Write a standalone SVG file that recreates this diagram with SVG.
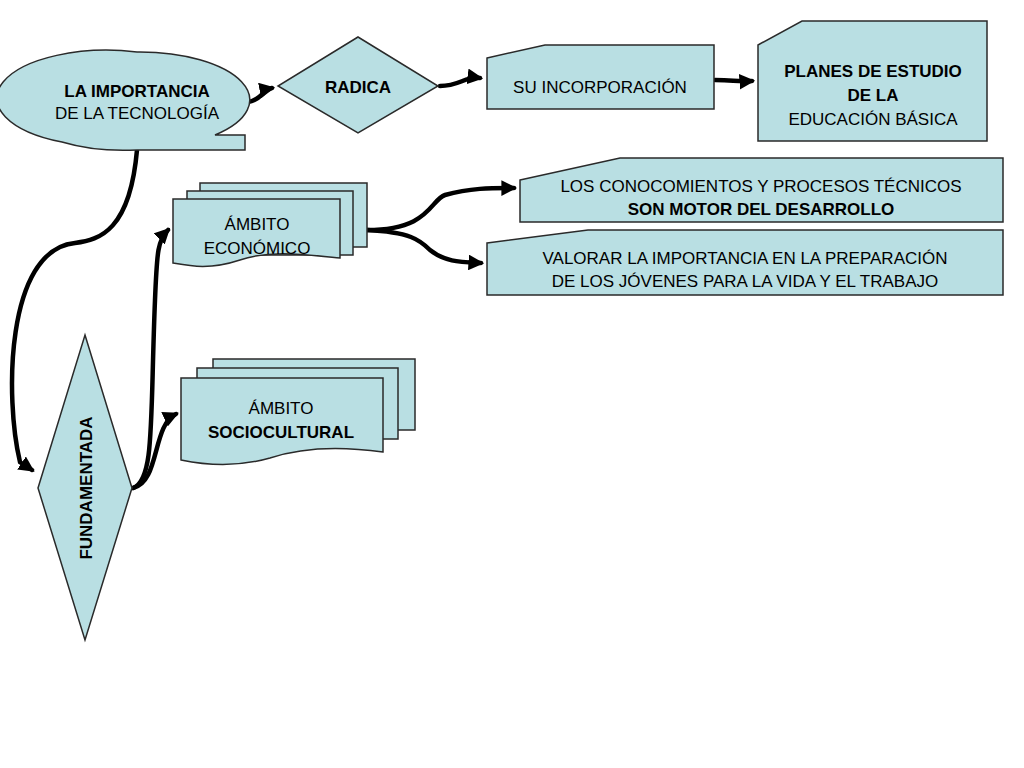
<svg xmlns="http://www.w3.org/2000/svg" width="1024" height="768" viewBox="0 0 1024 768">
<style>
.s{fill:#b9dfe3;stroke:#2a2a2a;stroke-width:1.5}
.t{font-family:"Liberation Sans",Arial,sans-serif;font-size:17px;fill:#000;text-anchor:middle}
.b{font-weight:bold}
.c{fill:none;stroke:#000;stroke-width:4.5;stroke-linecap:round}
</style>
<defs><marker id="a" viewBox="0 0 10 10" refX="8" refY="5" markerWidth="3.5" markerHeight="3.5" orient="auto" markerUnits="strokeWidth"><path d="M0,0 L10,5 L0,10 z" fill="#000"/></marker></defs>
<rect width="1024" height="768" fill="#fff"/>
<g id="connectors">
<path class="c" marker-end="url(#a)" d="M248,102 C262,100 262,90 272,88"/>
<path class="c" marker-end="url(#a)" d="M440,86 C460,86 465,76 480,78"/>
<path class="c" marker-end="url(#a)" d="M715,80 C735,80 735,82 752,81"/>
<path class="c" marker-end="url(#a)" d="M367,230 C430,230 430,200 445,195 C470,188 490,188 514,188"/>
<path class="c" marker-end="url(#a)" d="M367,230 C410,232 420,240 430,250 C445,262 460,262 481,263"/>
<path class="c" marker-end="url(#a)" d="M137,150 C130,230 100,240 75,243 C5,250 5,400 20,462 L32,470"/>
<path class="c" marker-end="url(#a)" d="M133,488 C155,480 150,420 155,300 C157,250 158,240 168,230"/>
<path class="c" marker-end="url(#a)" d="M133,488 C160,482 152,425 176,414"/>
</g>
<g id="n1"><path class="s" d="M137,52 A110,48 0 0 0 62,142 A110,48 0 0 0 137,150 L245,150 L245,135 L215,135 A110,48 0 0 0 137,52 z"/>
<text class="t b" x="137" y="97">LA IMPORTANCIA</text><text class="t" x="137" y="119">DE LA TECNOLOGÍA</text></g>
<g id="n2"><polygon class="s" points="358,37 438,86 358,133 278,86"/><text class="t b" x="358" y="93">RADICA</text></g>
<g id="n3"><polygon class="s" points="487,58 545,45 714,45 714,109 487,109"/><text class="t" x="600" y="93">SU INCORPORACIÓN</text></g>
<g id="n4"><polygon class="s" points="758,45 802,21 987,21 987,141 758,141"/>
<text class="t b" x="873" y="77">PLANES DE ESTUDIO</text><text class="t b" x="873" y="101">DE LA</text><text class="t" x="873" y="125">EDUCACIÓN BÁSICA</text></g>
<g id="n5"><polygon class="s" points="520,180 620,158 1003,158 1003,222 520,222"/>
<text class="t" x="761" y="192">LOS CONOCOMIENTOS Y PROCESOS TÉCNICOS</text><text class="t b" x="761" y="215">SON MOTOR DEL DESARROLLO</text></g>
<g id="n6"><polygon class="s" points="487,243 588,230 1003,230 1003,295 487,295"/>
<text class="t" x="745" y="264">VALORAR LA IMPORTANCIA EN LA PREPARACIÓN</text><text class="t" x="745" y="287">DE LOS JÓVENES PARA LA VIDA Y EL TRABAJO</text></g>
<g id="n7"><rect class="s" x="200" y="183" width="167" height="64"/><rect class="s" x="187" y="191" width="166" height="64"/>
<path class="s" d="M173,199 L340,199 L340,258 C300,254 270,250 240,260 C210,270 190,266 173,263 z"/>
<text class="t" x="257" y="230">ÁMBITO</text><text class="t" x="257" y="254">ECONÓMICO</text></g>
<g id="n8"><rect class="s" x="213" y="359" width="202" height="71"/><rect class="s" x="197" y="368" width="201" height="71"/>
<path class="s" d="M181,378 L383,378 L383,452 C340,446 300,448 270,458 C235,468 205,465 181,460 z"/>
<text class="t" x="281" y="414">ÁMBITO</text><text class="t b" x="281" y="438">SOCIOCULTURAL</text></g>
<g id="n9"><polygon class="s" points="85,335 132,488 85,640 38,488"/>
<text class="t b" transform="translate(92,488) rotate(-90)">FUNDAMENTADA</text></g>
</svg>
